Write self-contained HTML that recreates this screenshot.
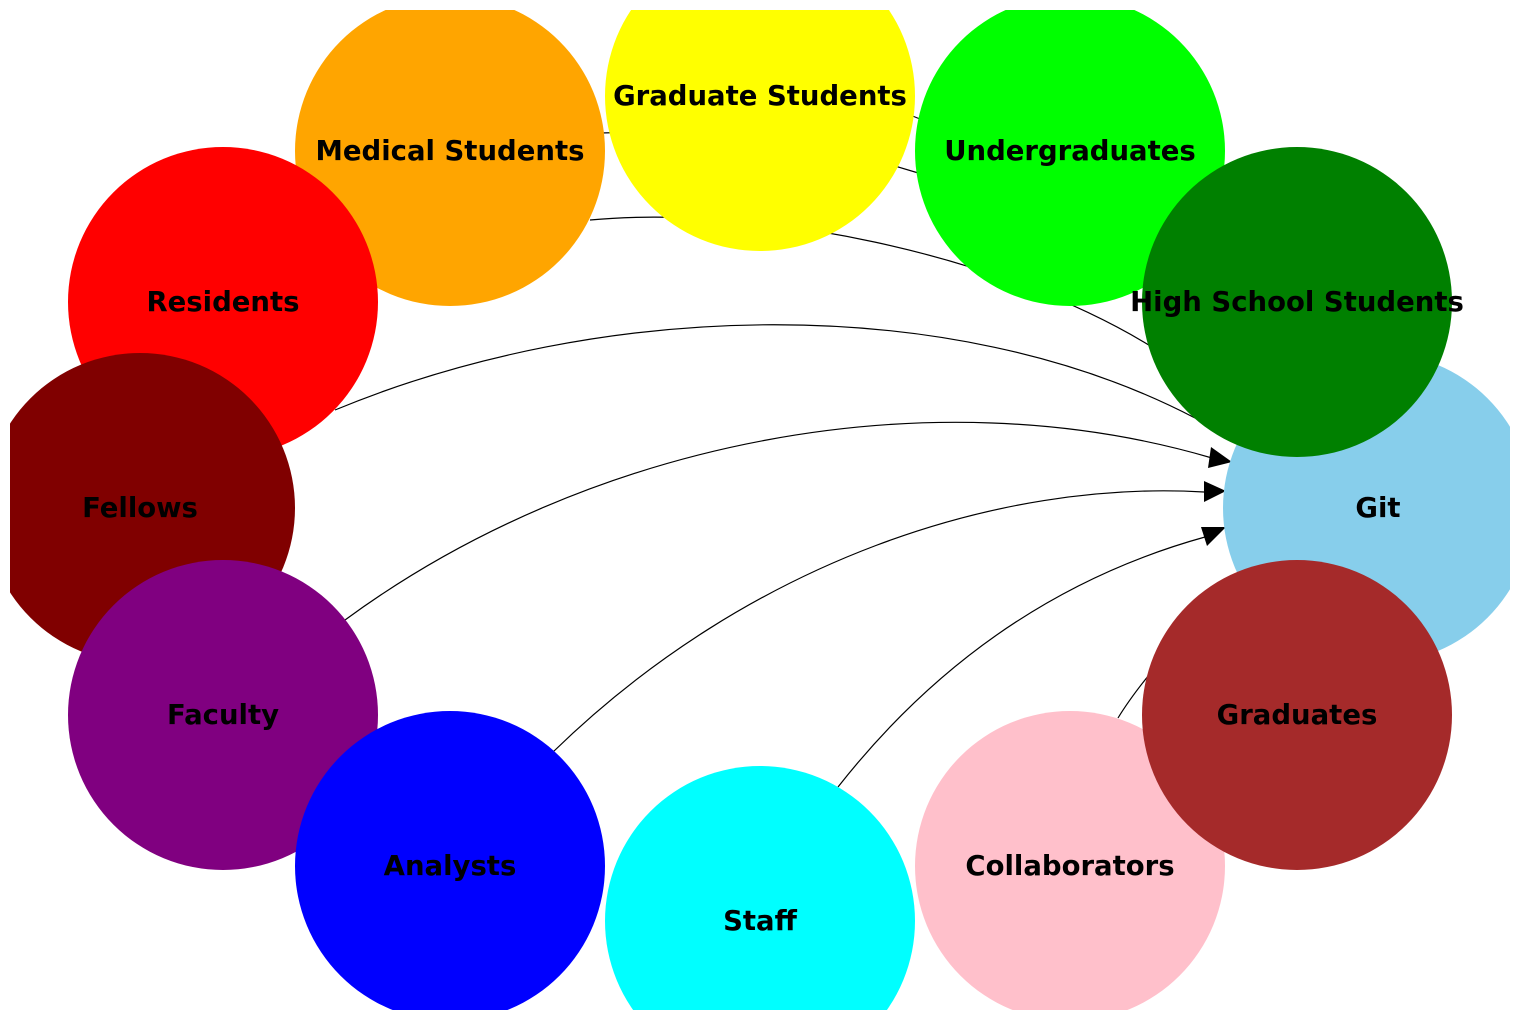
<!DOCTYPE html>
<html><head><meta charset="utf-8"><style>
html,body{margin:0;padding:0;background:#fff;width:1520px;height:1019px;overflow:hidden;}
svg{display:block;}
text{font-family:"DejaVu Sans","Liberation Sans",sans-serif;font-weight:bold;font-size:27.5px;fill:#000;}
</style></head><body>
<svg width="1520" height="1019" viewBox="0 0 1520 1019">
<defs><clipPath id="c"><rect x="10" y="10" width="1500" height="1000"/></clipPath></defs>
<g clip-path="url(#c)">
<g id="edges" fill="none" stroke="#000" stroke-width="1.2">
<path d="M600,133 L645,132"/>
<path d="M905,113 L935,125"/>
<path d="M885,163 L925,175"/>
<path d="M590,220 C750,205 1000,250 1160,352"/>
<path d="M335,410 C600,300 950,290 1195,418"/>
<path d="M345,620 C590,440 930,375 1212,458"/>
<path d="M553,752 C750,560 1000,480 1204,492"/>
<path d="M838,787 C930,670 1050,580 1205,537"/>
<path d="M1118,718 Q1135,690 1170,650"/>
</g>
<g fill="#000">
<polygon points="1232,462 1208,468 1211,447"/>
<polygon points="1226,491 1204,502 1204,481"/>
<polygon points="1226,527 1207,546 1201,527"/>
</g>
<g>
<g><circle cx="1378" cy="508" r="155" fill="#87ceeb"/><text x="1378" y="508" text-anchor="middle" dominant-baseline="central">Git</text></g>
<g><circle cx="450" cy="151" r="155" fill="#ffa500"/><text x="450" y="151" text-anchor="middle" dominant-baseline="central">Medical Students</text></g>
<g><circle cx="760" cy="96" r="155" fill="#ffff00"/><text x="760" y="96" text-anchor="middle" dominant-baseline="central">Graduate Students</text></g>
<g><circle cx="1070" cy="151" r="155" fill="#00ff00"/><text x="1070" y="151" text-anchor="middle" dominant-baseline="central">Undergraduates</text></g>
<g><circle cx="1297" cy="302" r="155" fill="#008000"/><text x="1297" y="302" text-anchor="middle" dominant-baseline="central">High School Students</text></g>
<g><circle cx="223" cy="302" r="155" fill="#ff0000"/><text x="223" y="302" text-anchor="middle" dominant-baseline="central">Residents</text></g>
<g><circle cx="140" cy="508" r="155" fill="#800000"/><text x="140" y="508" text-anchor="middle" dominant-baseline="central">Fellows</text></g>
<g><circle cx="223" cy="715" r="155" fill="#800080"/><text x="223" y="715" text-anchor="middle" dominant-baseline="central">Faculty</text></g>
<g><circle cx="450" cy="866" r="155" fill="#0000ff"/><text x="450" y="866" text-anchor="middle" dominant-baseline="central">Analysts</text></g>
<g><circle cx="760" cy="921" r="155" fill="#00ffff"/><text x="760" y="921" text-anchor="middle" dominant-baseline="central">Staff</text></g>
<g><circle cx="1070" cy="866" r="155" fill="#ffc0cb"/><text x="1070" y="866" text-anchor="middle" dominant-baseline="central">Collaborators</text></g>
<g><circle cx="1297" cy="715" r="155" fill="#a52a2a"/><text x="1297" y="715" text-anchor="middle" dominant-baseline="central">Graduates</text></g>
</g>
</g>
</svg>
</body></html>
